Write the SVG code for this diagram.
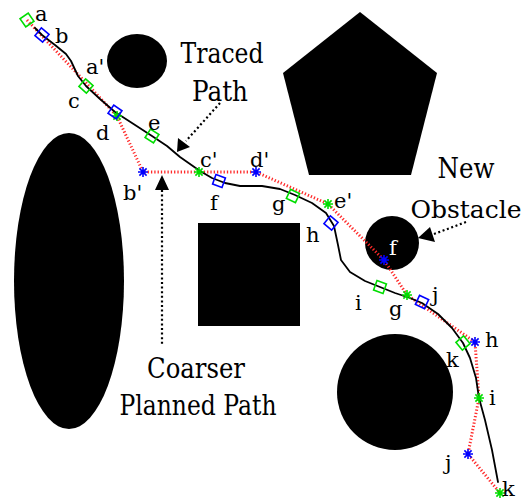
<svg xmlns="http://www.w3.org/2000/svg" width="525" height="501" viewBox="0 0 525 501">
<style>
.obs{fill:#000}
.coarse{fill:none;stroke:#ff2a2a;stroke-width:3;stroke-dasharray:1.3 2}
.traced{fill:none;stroke:#000;stroke-width:1.8;stroke-linejoin:round;stroke-linecap:round}
.dot{fill:none;stroke:#000;stroke-width:2.2;stroke-dasharray:2 2.6}
.gs{stroke:#00dd00;stroke-width:1.6;fill:none}
.bs{stroke:#0000ff;stroke-width:1.6;fill:none}
</style>
<defs>
<path id="star" d="M-5,0H5M0,-5V5M-3.6,-3.6L3.6,3.6M-3.6,3.6L3.6,-3.6"/>
<rect id="sq" x="-5" y="-5" width="10" height="10"/>
</defs>
<g id="obstacles">
<ellipse id="left-ellipse" class="obs" cx="69" cy="281" rx="55" ry="148"/>
<ellipse id="small-circle" class="obs" cx="137" cy="61" rx="30" ry="27"/>
<polygon id="pentagon" class="obs" points="360,12 437,73 411,175 309,175 283,73"/>
<rect id="square" class="obs" x="198" y="223" width="102" height="103"/>
<circle id="bottom-circle" class="obs" cx="395" cy="392" r="58"/>
<circle id="new-obstacle" class="obs" cx="392" cy="243" r="27"/>
</g>
<g id="connectors">
<polyline id="coarse-path" class="coarse" points="27,20 117,116 143,172 199,172 256,172 328,204 384,260 407,295 475,342 479,398 468,454 500,493"/>
<polyline id="traced-path" class="traced" points="35,28 42,35 55,45 66,54 71,61 78,76 86,86 100,99 115,112 132,123 152,136 167,146 180,157 200,171 212,178 225,183 240,186 262,186 280,189 295,195 312,203 326,213 334,226 338,245 341,260 350,272 365,281 380,287 395,293 410,298 422,303 438,314 452,328 463,343 470,358 476,378 479,398 485,420 492,450 498,482"/>
<line class="dot" x1="220" y1="103" x2="186" y2="141"/>
<polygon points="177,152 178,138 190,147" fill="#000"/>
<line class="dot" x1="162" y1="190" x2="162" y2="344"/>
<polygon points="162,175 155,190 169,190" fill="#000"/>
<line class="dot" x1="466" y1="222" x2="434" y2="234"/>
<polygon points="418,238 430,227 435,242" fill="#000"/>
</g>
<g id="coarse-markers">
<use href="#star" class="gs" x="117" y="116"/>
<use href="#star" class="bs" x="143" y="172"/>
<use href="#star" class="gs" x="199" y="172"/>
<use href="#star" class="bs" x="256" y="172"/>
<use href="#star" class="gs" x="328" y="204"/>
<use href="#star" class="bs" x="384" y="260"/>
<use href="#star" class="gs" x="407" y="295"/>
<use href="#star" class="bs" x="475" y="342"/>
<use href="#star" class="gs" x="479" y="398"/>
<use href="#star" class="bs" x="468" y="454"/>
<use href="#star" class="gs" x="500" y="493"/>
</g>
<g id="traced-markers">
<use href="#sq" class="gs" transform="translate(27,20) rotate(55)"/>
<use href="#sq" class="bs" transform="translate(42,35) rotate(40)"/>
<use href="#sq" class="gs" transform="translate(86,86) rotate(42)"/>
<use href="#sq" class="bs" transform="translate(115,112) rotate(35)"/>
<use href="#sq" class="gs" transform="translate(152,136) rotate(33)"/>
<use href="#sq" class="bs" transform="translate(219,181) rotate(20)"/>
<use href="#sq" class="gs" transform="translate(293,196) rotate(25)"/>
<use href="#sq" class="bs" transform="translate(331,223) rotate(40)"/>
<use href="#sq" class="gs" transform="translate(380,287) rotate(20)"/>
<use href="#sq" class="bs" transform="translate(422,302) rotate(25)"/>
<use href="#sq" class="gs" transform="translate(463,343) rotate(50)"/>
</g>
<g id="labels" font-family="'DejaVu Serif', 'Liberation Serif', serif" font-size="21" fill="#000">
<text x="35" y="21">a</text>
<text x="55" y="43">b</text>
<text x="86" y="74">a'</text>
<text x="68" y="108">c</text>
<text x="96" y="140">d</text>
<text x="148" y="130">e</text>
<text x="123" y="200">b'</text>
<text x="200" y="167">c'</text>
<text x="250" y="167">d'</text>
<text x="210" y="210">f</text>
<text x="272" y="211">g</text>
<text x="334" y="208">e'</text>
<text x="306" y="242">h</text>
<text x="389" y="255" fill="#fff">f</text>
<text x="355" y="310">i</text>
<text x="389" y="316">g</text>
<text x="432" y="302">j</text>
<text x="485" y="347">h</text>
<text x="446" y="367">k</text>
<text x="489" y="405">i</text>
<text x="445" y="470">j</text>
<text x="502" y="496">k</text>
<g font-size="27" text-anchor="middle">
<text x="222" y="63" textLength="83" lengthAdjust="spacingAndGlyphs">Traced</text>
<text x="220" y="101" textLength="56" lengthAdjust="spacingAndGlyphs">Path</text>
<text x="466" y="178" textLength="57" lengthAdjust="spacingAndGlyphs">New</text>
<text x="466" y="218" font-size="25">Obstacle</text>
<text x="196" y="378" textLength="98" lengthAdjust="spacingAndGlyphs">Coarser</text>
<text x="198" y="415" textLength="157" lengthAdjust="spacingAndGlyphs">Planned Path</text>
</g>
</g>
</svg>
